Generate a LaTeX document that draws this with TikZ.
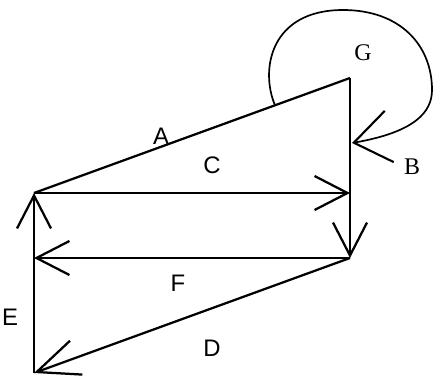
\documentclass[tikz,border=0pt]{standalone}
\usepackage{fontspec}
\setmainfont{Liberation Sans}
\newfontfamily\serifface{Liberation Serif}
\usetikzlibrary{arrows.meta}

\begin{document}
\begin{tikzpicture}[
    edge/.style={line width=1.6pt, -{Straight Barb[length=8.25mm, width=8.5mm]}},
    longedge/.style={line width=1.6pt, -{Straight Barb[length=10.5mm, width=9mm]}},
    loopedge/.style={line width=1.2pt, -{Straight Barb[length=9mm, width=13mm, line width=1.5pt]}},
    plain/.style={line width=1.6pt},
    lbl/.style={font=\fontsize{17}{20}\selectfont, inner sep=0pt},
    slbl/.style={font=\serifface\fontsize{17}{20}\selectfont, inner sep=0pt}
]
\useasboundingbox (0,0) rectangle (10.825,9.4);

% Corner points
\coordinate (top) at (8.75,7.45);
\coordinate (lup) at (0.85,4.575);
\coordinate (rup) at (8.75,4.575);
\coordinate (rlow) at (8.75,2.95);
\coordinate (lmid) at (0.85,2.95);
\coordinate (lbot) at (0.85,0.075);

% Loop ends
\coordinate (loopA) at (6.875,6.768);
\coordinate (loopB) at (8.8,5.825);

% Edges
\draw[plain] (lup) -- (top);
\draw[edge] (top) -- (rup) -- (rlow);
\draw[edge] (lup) -- (rup);
\draw[edge] (rlow) -- (lmid);
\draw[longedge] (rlow) -- (lbot);
\draw[edge] (lbot) -- (lup);

% Loop G
\draw[loopedge] (loopA) .. controls (6.5,7.65) and (6.75,9.15) .. (8.575,9.15)
    .. controls (10,9.15) and (10.8,8.275) .. (10.8,7.15)
    .. controls (10.8,6.6) and (10.375,6.1) .. (loopB);

% Labels
\node[lbl] (labA) at (4.025,6.0) {A};
\node[lbl] (labC) at (5.3,5.275) {C};
\node[slbl] (labG) at (9.075,8.075) {G};
\node[slbl] (labB) at (10.3,5.225) {B};
\node[lbl] (labE) at (0.25,1.475) {E};
\node[lbl] (labF) at (4.45,2.325) {F};
\node[lbl] (labD) at (5.3,0.7) {D};

\end{tikzpicture}
\end{document}
